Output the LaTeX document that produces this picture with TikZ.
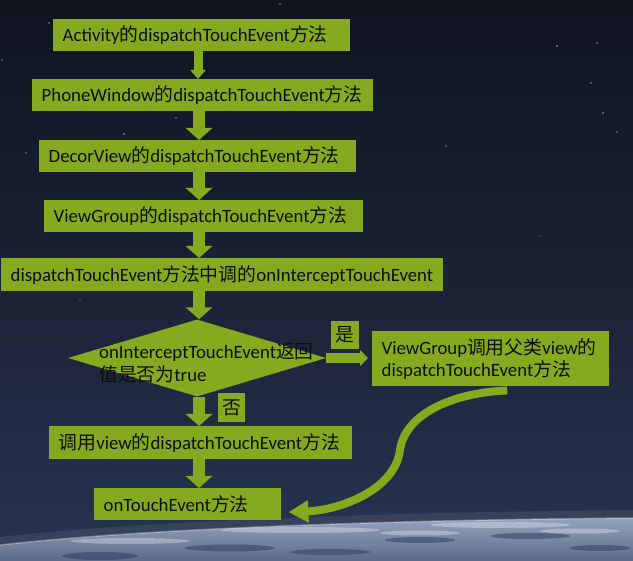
\documentclass[tikz,border=0pt]{standalone}
\usepackage{fontspec}
\setmainfont{Carlito}
\newfontfamily\cjkfont{Noto Sans CJK SC}
\newcommand\zh[1]{{\cjkfont #1}}
\newcommand\boxfont{\fontsize{18.8}{22}\selectfont}
\newcommand\diafont{\fontsize{18.8}{23}\selectfont}
\usetikzlibrary{arrows.meta,shapes.geometric}
\definecolor{fgreen}{RGB}{134,170,31}
\definecolor{bgtop}{RGB}{15,20,31}
\definecolor{bgmid}{RGB}{26,34,53}
\definecolor{bgbot}{RGB}{40,52,82}
\definecolor{earthtop}{RGB}{150,163,188}
\definecolor{earthbot}{RGB}{92,106,138}
\definecolor{earthdark}{RGB}{52,64,96}
\definecolor{txt}{RGB}{14,14,14}
\tikzset{
  box/.style={fill=fgreen, draw=none, anchor=north west, inner xsep=9.5pt, inner ysep=0pt,
    align=left, font=\boxfont, text=txt},
  tag/.style={fill=fgreen, draw=none, anchor=north west, inner sep=0pt, font=\boxfont, text=txt},
  thinarrow/.style={draw=fgreen, line width=9pt, -{Triangle[width=15pt,length=9pt]}},
  blockarrow/.style={draw=fgreen, line width=12pt, -{Triangle[width=26pt,length=12pt]}},
  sidearrow/.style={draw=fgreen, line width=10pt, -{Triangle[width=16pt,length=8pt]}},
  curvearrow/.style={draw=fgreen, line width=8pt, -{Triangle[width=21pt,length=20pt]}},
  star/.style={fill=white, opacity=0.45},
  cloud/.style={fill=white, opacity=0.3},
  patch/.style={fill=earthdark, opacity=0.55},
}
\begin{document}
\begin{tikzpicture}[x=1pt,y=-1pt]
\useasboundingbox (0,0) rectangle (633,561);
% background
\shade[top color=bgtop, bottom color=bgbot, middle color=bgmid] (0,0) rectangle (633,561);
% stars
\foreach \sx/\sy/\sr in {557/46/1.1, 597/43/1, 591/83/1, 603/113/1.1, 446/146/0.9, 124/134/1.2,
  176/118/0.9, 617/132/0.9, 26/153/0.8, 49/23/0.8, 2/60/0.8, 280/4/0.8, 540/236/0.7, 80/300/0.7}
  \fill[star] (\sx,\sy) circle (\sr);
% atmosphere haze
\draw[white, opacity=0.08, line width=8pt] (0,541) .. controls (150,524) and (400,516) .. (633,514);
% earth
\shade[top color=earthtop, bottom color=earthbot]
  (0,561) -- (0,545) .. controls (150,528) and (400,520) .. (633,518) -- (633,561) -- cycle;
\begin{scope}
  \clip (0,561) -- (0,545) .. controls (150,528) and (400,520) .. (633,518) -- (633,561) -- cycle;
  \fill[patch] (100,556) ellipse (38 and 4);
  \fill[patch] (230,548) ellipse (45 and 3.5);
  \fill[patch] (330,552) ellipse (40 and 3);
  \fill[patch] (420,540) ellipse (35 and 3);
  \fill[patch] (530,536) ellipse (40 and 3);
  \fill[patch] (600,548) ellipse (30 and 3);
  \fill[cloud] (300,530) ellipse (80 and 3);
  \fill[cloud] (500,525) ellipse (70 and 3);
  \fill[cloud] (130,541) ellipse (60 and 3);
  \fill[cloud] (420,533) ellipse (40 and 2.5);
  \fill[cloud] (580,531) ellipse (40 and 2.5);
\end{scope}
\draw[white, opacity=0.3, line width=1.5pt] (0,545) .. controls (150,528) and (400,520) .. (633,518);

% boxes
\node[box, text width=278pt, minimum height=32pt] (b1) at (53,19) {Activity\zh{的}dispatchTouchEvent\zh{方法}};
\node[box, text width=322pt, minimum height=32pt] (b2) at (32,79) {PhoneWindow\zh{的}dispatchTouchEvent\zh{方法}};
\node[box, text width=298pt, minimum height=32pt] (b3) at (39,140) {DecorView\zh{的}dispatchTouchEvent\zh{方法}};
\node[box, text width=300pt, minimum height=32pt] (b4) at (44,200) {ViewGroup\zh{的}dispatchTouchEvent\zh{方法}};
\node[box, text width=423pt, minimum height=33pt] (b5) at (1,258) {dispatchTouchEvent\zh{方法中调的}onInterceptTouchEvent};
\node[diamond, fill=fgreen, draw=none, minimum width=258pt, minimum height=77pt, inner sep=0pt] (dia) at (197,358) {};
\node[anchor=north west, align=left, font=\diafont, text=txt, inner sep=0pt] (diatext) at (99,343)
  {onInterceptTouchEvent\zh{返回}\\\zh{值是否为}true};
\node[tag, minimum width=28pt, minimum height=28pt] (yes) at (331,321) {\zh{是}};
\node[box, text width=218pt, minimum height=55pt] (rb) at (372,331) {ViewGroup\zh{调用父类}view\zh{的}\\dispatchTouchEvent\zh{方法}};
\node[tag, minimum width=27pt, minimum height=29pt] (no) at (218,393) {\zh{否}};
\node[box, text width=284pt, minimum height=33pt] (b6) at (49,426) {\zh{调用}view\zh{的}dispatchTouchEvent\zh{方法}};
\node[box, text width=168pt, minimum height=32pt] (b7) at (94,488) {onTouchEvent\zh{方法}};

% connectors
\coordinate (sp) at (199,0);
\coordinate (sp1) at (198,0);
\draw[thinarrow] (b1.south -| sp1) -- (b2.north -| sp1);
\draw[blockarrow] (b2.south -| sp) -- (b3.north -| sp);
\draw[blockarrow] (b3.south -| sp) -- (b4.north -| sp);
\draw[blockarrow] (b4.south -| sp) -- (b5.north -| sp);
\draw[blockarrow] (b5.south -| sp) -- (dia.north -| sp);
\draw[sidearrow] (dia.east) -- ([xshift=-4pt]rb.west |- dia.east);
\draw[blockarrow] (dia.south -| sp) -- (b6.north -| sp);
\draw[blockarrow] (b6.south -| sp) -- (b7.north -| sp);
\coordinate (cm) at (400,450);
\draw[curvearrow] ([xshift=16.5pt,yshift=-4pt]rb.south) .. controls (450,393) and (405,415) .. (cm)
  .. controls (395,490) and (340,510) .. ([xshift=7pt,yshift=-8pt]b7.east);
\end{tikzpicture}
\end{document}
